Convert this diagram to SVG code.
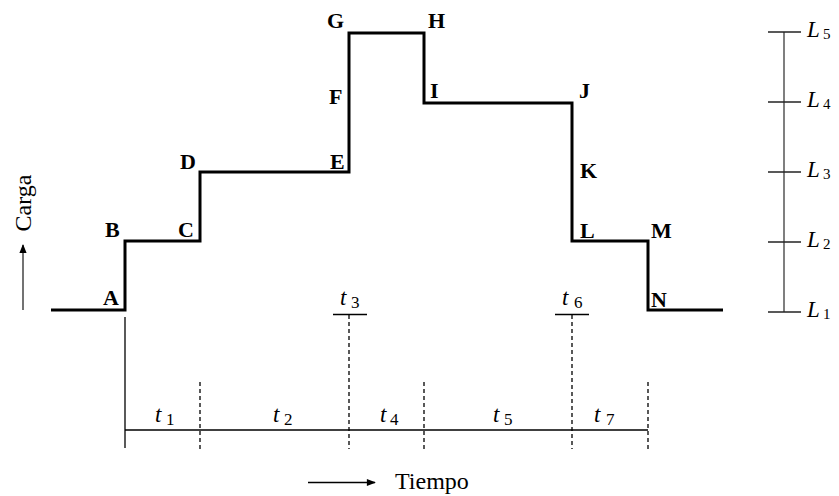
<svg xmlns="http://www.w3.org/2000/svg" width="839" height="496" viewBox="0 0 839 496" font-family="'Liberation Serif', 'Times New Roman', Times, serif">
<defs>
<marker id="ah" viewBox="0 0 10 10" refX="9" refY="5" markerWidth="10" markerHeight="9" markerUnits="userSpaceOnUse" orient="auto">
<path d="M0,1 L10,5 L0,9 z" fill="#000"/>
</marker>
<style>
text{font-family:'Liberation Serif','Times New Roman',Times,serif;fill:#000}
.lbl{font-weight:bold;font-size:22px}
.it{font-style:italic;font-size:23px}
.sub{font-size:17px}
.lsub{font-size:15px}
.ax{font-size:24px}
.step{fill:none;stroke:#000;stroke-width:3}
.thin{stroke:#000;stroke-width:1.3;fill:none}
.dash{stroke:#000;stroke-width:1.3;stroke-dasharray:4,3;fill:none}
.scale{stroke:#555;stroke-width:1.5}
.tick{stroke:#222;stroke-width:1.5}
</style>
</defs>
<rect width="839" height="496" fill="#fff"/>

<g id="connectors">
<path class="step" d="M51,310 H125 V241 H200 V172 H349 V33 H424 V103 H572 V241 H648 V310 H723"/>
<line class="thin" x1="125" y1="317" x2="125" y2="448"/>
<line class="thin" x1="125" y1="430" x2="648" y2="430"/>
<line class="dash" x1="200" y1="382" x2="200" y2="449"/>
<line class="dash" x1="424" y1="382" x2="424" y2="449"/>
<line class="dash" x1="648" y1="382" x2="648" y2="449"/>
<line class="dash" x1="349" y1="315" x2="349" y2="449"/>
<line class="dash" x1="572" y1="315" x2="572" y2="449"/>
<line class="thin" x1="333" y1="314.5" x2="367" y2="314.5"/>
<line class="thin" x1="555" y1="314.5" x2="589" y2="314.5"/>
<line x1="308" y1="482.5" x2="375" y2="482.5" stroke="#000" stroke-width="1.5" marker-end="url(#ah)"/>
<line x1="23" y1="310" x2="23" y2="245" stroke="#444" stroke-width="1.5" marker-end="url(#ah)"/>
</g>

<g id="scale">
<line class="scale" x1="784" y1="32" x2="784" y2="312"/>
<line class="tick" x1="768" y1="32" x2="801" y2="32"/>
<line class="tick" x1="768" y1="102" x2="801" y2="102"/>
<line class="tick" x1="768" y1="172" x2="801" y2="172"/>
<line class="tick" x1="768" y1="242" x2="801" y2="242"/>
<line class="tick" x1="768" y1="312" x2="801" y2="312"/>
<g id="L5"><text class="it" x="807" y="37">L</text><text class="lsub" x="823" y="39">5</text></g>
<g id="L4"><text class="it" x="807" y="107">L</text><text class="lsub" x="823" y="109">4</text></g>
<g id="L3"><text class="it" x="807" y="177">L</text><text class="lsub" x="823" y="179">3</text></g>
<g id="L2"><text class="it" x="807" y="247">L</text><text class="lsub" x="823" y="249">2</text></g>
<g id="L1"><text class="it" x="807" y="317">L</text><text class="lsub" x="823" y="319">1</text></g>
</g>

<g id="points">
<g id="A"><text class="lbl" x="103" y="305">A</text></g>
<g id="B"><text class="lbl" x="105" y="237">B</text></g>
<g id="C"><text class="lbl" x="178" y="237">C</text></g>
<g id="D"><text class="lbl" x="180" y="169">D</text></g>
<g id="E"><text class="lbl" x="330" y="169">E</text></g>
<g id="F"><text class="lbl" x="329" y="104">F</text></g>
<g id="G"><text class="lbl" x="327" y="28">G</text></g>
<g id="H"><text class="lbl" x="428" y="28">H</text></g>
<g id="I"><text class="lbl" x="430" y="98">I</text></g>
<g id="J"><text class="lbl" x="579" y="98">J</text></g>
<g id="K"><text class="lbl" x="580" y="178">K</text></g>
<g id="L"><text class="lbl" x="580" y="238">L</text></g>
<g id="M"><text class="lbl" x="651" y="238">M</text></g>
<g id="N"><text class="lbl" x="651" y="307">N</text></g>
</g>

<g id="times">
<g id="t1"><text class="it" x="155" y="422">t</text><text class="sub" x="166" y="425">1</text></g>
<g id="t2"><text class="it" x="273" y="422">t</text><text class="sub" x="284" y="425">2</text></g>
<g id="t3"><text class="it" x="340" y="305">t</text><text class="sub" x="351" y="308">3</text></g>
<g id="t4"><text class="it" x="380" y="422">t</text><text class="sub" x="390" y="425">4</text></g>
<g id="t5"><text class="it" x="493" y="422">t</text><text class="sub" x="504" y="425">5</text></g>
<g id="t6"><text class="it" x="562" y="305">t</text><text class="sub" x="574" y="308">6</text></g>
<g id="t7"><text class="it" x="594" y="422">t</text><text class="sub" x="606" y="425">7</text></g>
</g>

<g id="axes">
<text class="ax" x="395" y="489">Tiempo</text>
<text class="ax" transform="translate(31,203) rotate(-90)" text-anchor="middle">Carga</text>
</g>
</svg>
